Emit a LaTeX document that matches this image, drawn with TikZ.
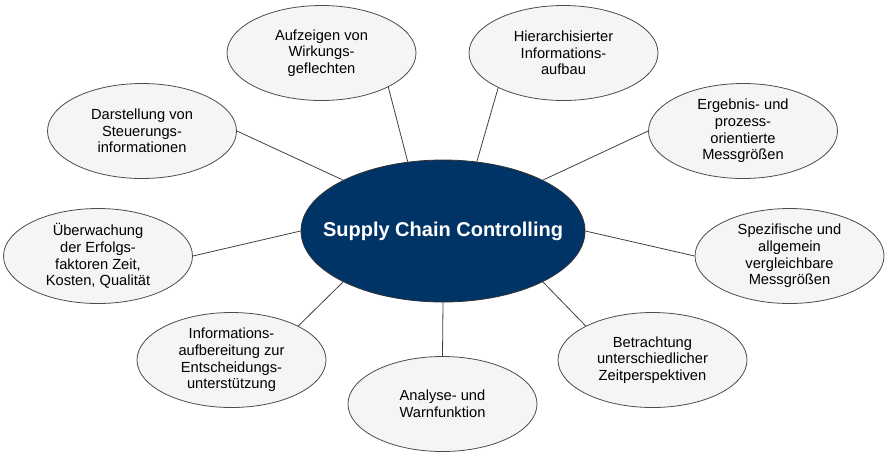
\documentclass[tikz,border=0pt]{standalone}
\usepackage{fontspec}
\setmainfont{Liberation Sans}
\usepackage{tikz}
\usetikzlibrary{shapes.geometric}

\definecolor{scnavy}{RGB}{0,51,102}
\definecolor{bubblefill}{RGB}{245,245,245}

\begin{document}
\begin{tikzpicture}[
    x=0.75pt, y=-0.75pt,
    bubble/.style={
	ellipse,
	draw=black!70,
	fill=bubblefill,
	line width=0.6pt,
	minimum width=141.75pt,
	minimum height=71.25pt,
	inner sep=0pt,
	align=center,
	font=\fontsize{11}{12.5}\selectfont
    },
    hub/.style={
	ellipse,
	draw=black!80,
	fill=scnavy,
	line width=0.6pt,
	minimum width=213pt,
	minimum height=106.5pt,
	inner xsep=-25pt,
	text=white,
	font=\fontsize{15}{18}\selectfont\bfseries
    },
    link/.style={
	draw=black!75,
	line width=0.6pt
    }
]
	\useasboundingbox (0,0) rectangle (887,455);

	% Centre
	\node[hub] (scc) at (443,231) {Supply Chain Controlling};

	% Top row
	\node[bubble] (wirkung) at (321.5,53) {Aufzeigen von\\Wirkungs-\\geflechten};
	\node[bubble] (hierarchie) at (563.5,53) {Hierarchisierter\\Informations-\\aufbau};

	% Upper sides
	\node[bubble] (steuerung) at (142,131) {Darstellung von\\Steuerungs-\\informationen};
	\node[bubble] (ergebnis) at (743,131) {Ergebnis- und\\prozess-\\orientierte\\Messgrößen};

	% Middle sides
	\node[bubble] (erfolg) at (98,256) {Überwachung\\der Erfolgs-\\faktoren Zeit,\\Kosten, Qualität};
	\node[bubble] (vergleich) at (789.5,256) {Spezifische und\\allgemein\\vergleichbare\\Messgrößen};

	% Lower sides
	\node[bubble] (entscheid) at (231.5,360) {Informations-\\aufbereitung zur\\Entscheidungs-\\unterstützung};
	\node[bubble] (zeit) at (652.5,360) {Betrachtung\\unterschiedlicher\\Zeitperspektiven};

	% Bottom
	\node[bubble] (warnung) at (442.5,404) {Analyse- und\\Warnfunktion};

	% Connections to the centre
	\draw[link] (scc.117) -- (wirkung.-27);
	\draw[link] (scc.64) -- (hierarchie.-152);
	\draw[link] (scc.153) -- (steuerung.east);
	\draw[link] (scc.27) -- (ergebnis.west);
	\draw[link] (scc.west) -- (erfolg.east);
	\draw[link] (scc.east) -- (vergleich.west);
	\draw[link] (scc.-153) -- (entscheid.27);
	\draw[link] (scc.-27) -- (zeit.153);
	\draw[link] (scc.south) -- (warnung.north);
\end{tikzpicture}
\end{document}
